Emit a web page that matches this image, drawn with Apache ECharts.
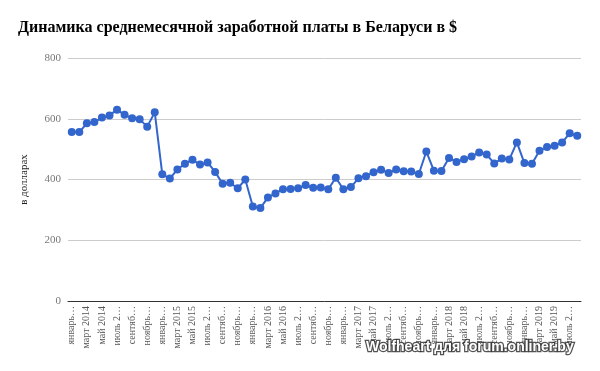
<!DOCTYPE html>
<html><head><meta charset="utf-8">
<script src="https://cdn.jsdelivr.net/npm/echarts@6/dist/echarts.min.js"></script>
<style>html,body{margin:0;padding:0;background:#fff}#c{width:600px;height:371px}</style>
</head><body><div id="c"></div>
<script>
var monthNames = ['январь','февраль','март','апрель','май','июнь','июль','август','сентябрь','октябрь','ноябрь','декабрь'];
var years = [2014, 2015, 2016, 2017, 2018, 2019];
var categories = [];
years.forEach(function(y){ monthNames.forEach(function(m){ categories.push(m + ' ' + y); }); });
categories = categories.slice(0, 68);
var xTickLabels = [
  'январь…', 'март 2014', 'май 2014', 'июль 2…', 'сентяб…', 'ноябрь…',
  'январь…', 'март 2015', 'май 2015', 'июль 2…', 'сентяб…', 'ноябрь…',
  'январь…', 'март 2016', 'май 2016', 'июль 2…', 'сентяб…', 'ноябрь…',
  'январь…', 'март 2017', 'май 2017', 'июль 2…', 'сентяб…', 'ноябрь…',
  'январь…', 'март 2018', 'май 2018', 'июль 2…', 'сентяб…', 'ноябрь…',
  'январь…', 'март 2019', 'май 2019', 'июль 2…'
];
var salary = [
  556, 556, 585, 589, 604, 611, 630, 613, 602, 598, 574, 621,
  417, 403, 433, 452, 465, 449, 456, 425, 386, 389, 371, 400,
  311, 306, 341, 354, 368, 369, 371, 382, 373, 374, 368, 406,
  368, 375, 404, 411, 424, 432, 421, 433, 427, 426, 418, 492,
  429, 428, 471, 458, 467, 476, 489, 482, 453, 469, 466, 522,
  454, 452, 495, 507, 511, 522, 552, 544
];
var yTicks = [0, 200, 400, 600, 800];
var titleText = 'Динамика среднемесячной заработной платы в Беларуси в $';
var yAxisName = 'в долларах';
var watermark = 'Wolfheart для forum.onliner.by';

var chart = echarts.init(document.getElementById('c'));
chart.setOption({
  animation: false,
  title: {
    text: titleText, left: 13, top: 15,
    textStyle: { fontFamily: 'Liberation Serif', fontWeight: 'bold', fontSize: 16, color: '#000' }
  },
  grid: { left: 68, right: 19, top: 58, bottom: 70 },
  xAxis: {
    type: 'category', data: categories, boundaryGap: true,
    axisLine: { lineStyle: { color: '#333', width: 1 } },
    axisTick: { show: false },
    axisLabel: {
      interval: 1, rotate: 90, fontFamily: 'Liberation Serif', fontSize: 10, color: '#555', margin: 5,
      formatter: function (v, i) { return xTickLabels[Math.floor(i / 2)] || ''; }
    }
  },
  yAxis: {
    type: 'value', min: yTicks[0], max: yTicks[yTicks.length - 1], interval: 200,
    name: yAxisName, nameLocation: 'middle', nameGap: 38, nameRotate: 90,
    nameTextStyle: { fontFamily: 'Liberation Serif', fontSize: 11, color: '#222' },
    axisLine: { show: false }, axisTick: { show: false },
    axisLabel: { fontFamily: 'Liberation Serif', fontSize: 11, color: '#777', margin: 7 },
    splitLine: { lineStyle: { color: '#ccc', width: 1 } }
  },
  series: [{
    type: 'line', data: salary,
    symbol: 'circle', symbolSize: 8, showAllSymbol: true,
    lineStyle: { color: '#3366cc', width: 2 },
    itemStyle: { color: '#3366cc' }
  }],
  graphic: [{
    type: 'text', x: 366, y: 340, z: 100, zlevel: 1,
    style: {
      text: watermark,
      font: 'bold 14px "Liberation Sans"', fill: '#ffffff',
      stroke: 'rgba(40,40,40,0.8)', lineWidth: 2.5,
      shadowColor: 'rgba(0,0,0,0.6)', shadowBlur: 6, shadowOffsetX: 1, shadowOffsetY: 2
    }
  }]
});
</script></body></html>
